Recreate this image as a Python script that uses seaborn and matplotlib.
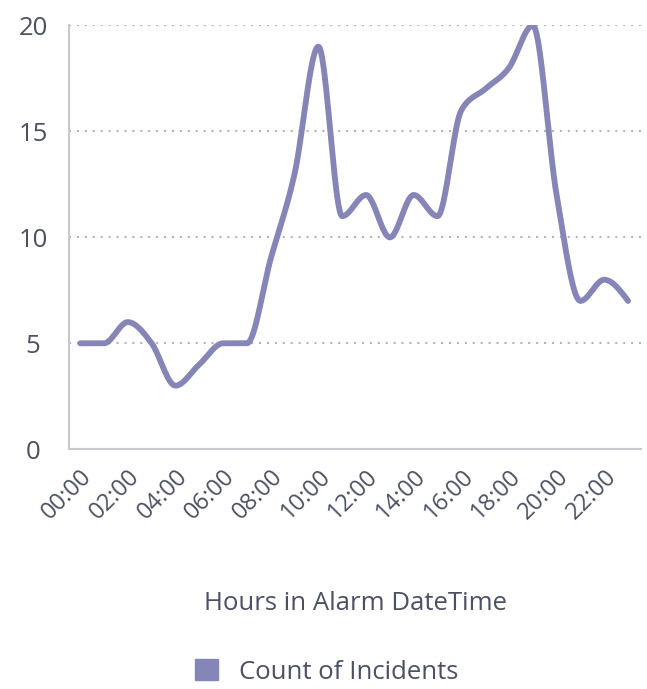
import numpy as np
import pandas as pd
import matplotlib
matplotlib.use("Agg")
import matplotlib.pyplot as plt
import seaborn as sns

hours = list(range(24))
hour_labels = ["%02d:00" % h for h in hours]
incidents = [5, 5, 6, 5, 3, 4, 5, 5, 9, 13, 19, 11, 12, 10, 12, 11, 16, 17, 18, 20, 12, 7, 8, 7]

LINE = "#8585b8"
TEXT = "#4b5162"
AXIS = "#c8c8d0"


def monotone_curve(x, y, steps=40):
    # d3 curveMonotoneX style smoothing, drawn between the data points
    x = np.asarray(x, float)
    y = np.asarray(y, float)
    n = len(x)
    h = np.diff(x)
    s = np.diff(y) / h
    t = np.zeros(n)
    for i in range(1, n - 1):
        p = (s[i - 1] * h[i] + s[i] * h[i - 1]) / (h[i - 1] + h[i])
        t[i] = (np.sign(s[i - 1]) + np.sign(s[i])) * min(abs(s[i - 1]), abs(s[i]), 0.5 * abs(p))
    t[0] = (3 * s[0] - t[1]) / 2
    t[-1] = (3 * s[-1] - t[-2]) / 2
    xs, ys = [], []
    for i in range(n - 1):
        u = np.linspace(0, 1, steps, endpoint=False)
        h00 = 2 * u**3 - 3 * u**2 + 1
        h10 = u**3 - 2 * u**2 + u
        h01 = -2 * u**3 + 3 * u**2
        h11 = u**3 - u**2
        xs.append(x[i] + u * h[i])
        ys.append(h00 * y[i] + h10 * h[i] * t[i] + h01 * y[i + 1] + h11 * h[i] * t[i + 1])
    xs.append([x[-1]])
    ys.append([y[-1]])
    return np.concatenate(xs), np.concatenate(ys)


sx, sy = monotone_curve(hours, incidents)
df = pd.DataFrame({"hour": sx, "count": sy})

sns.set_style("white")
plt.rcParams["font.family"] = ["Open Sans", "DejaVu Sans"]

fig = plt.figure(figsize=(6.47, 6.89), dpi=100)
ax = fig.add_axes([0.107, 0.348, 0.884, 0.615])

sns.lineplot(data=df, x="hour", y="count", color=LINE, linewidth=4.2, ax=ax,
             solid_capstyle="round", solid_joinstyle="round", label="Count of Incidents", legend=False)

ax.set_xlim(-0.46, 23.55)
ax.set_ylim(0, 20)
ax.set_yticks([0, 5, 10, 15, 20])
for v in [5, 10, 15, 20]:
    ax.axhline(v, color="#b4b4c0", linestyle=(0, (1, 2.8)), linewidth=1.5, zorder=0)

ax.set_xticks(hours[::2])
ax.set_xticklabels(hour_labels[::2], rotation=45, ha="right", va="top", rotation_mode="anchor")
ax.tick_params(axis="x", length=8, width=1.2, color=AXIS, labelsize=17, labelcolor=TEXT, pad=3)
ax.tick_params(axis="y", length=0, labelsize=18.5, labelcolor=TEXT, pad=26)
for lbl in ax.get_yticklabels():
    lbl.set_horizontalalignment("center")

for side in ["top", "right"]:
    ax.spines[side].set_visible(False)
for side in ["left", "bottom"]:
    ax.spines[side].set_color(AXIS)
    ax.spines[side].set_linewidth(1.5)

ax.set_ylabel("")
ax.set_xlabel("Hours in Alarm DateTime", fontsize=18.5, color=TEXT, va="center")
ax.xaxis.set_label_coords(0.5, -0.364)

handle = plt.Rectangle((0, 0), 1, 1, color=LINE)
fig.legend([handle], ["Count of Incidents"], loc="center", bbox_to_anchor=(0.505, 0.025),
           frameon=False, fontsize=18.5, labelcolor=TEXT, handlelength=0.9, handleheight=0.9,
           handletextpad=0.8)

fig.savefig("out.png", dpi=100)
